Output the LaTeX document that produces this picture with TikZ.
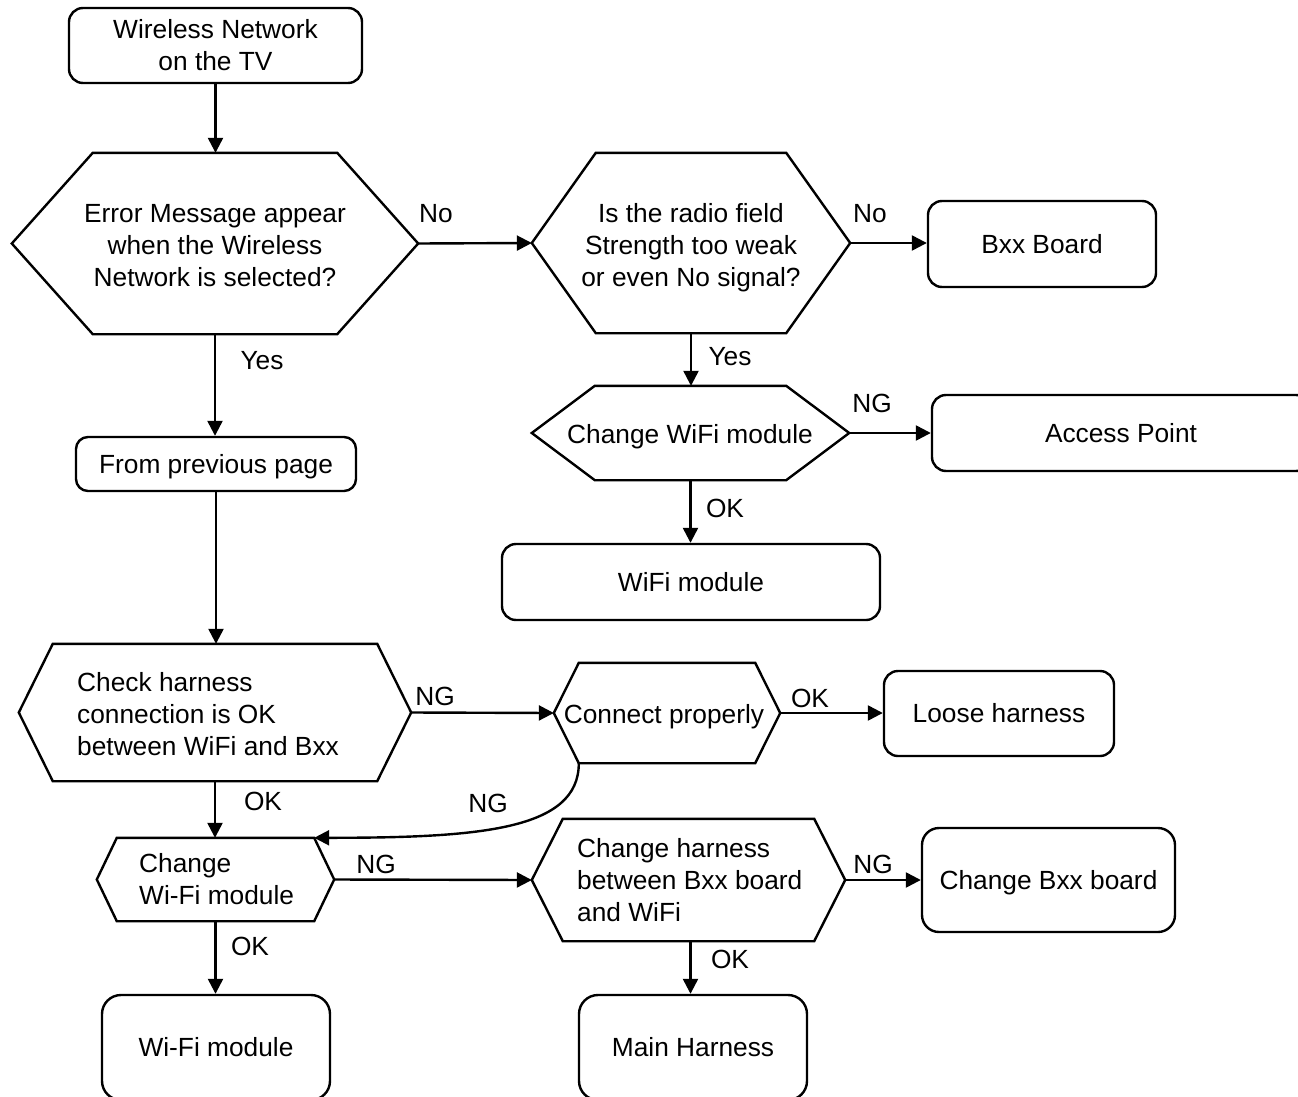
\documentclass[tikz,border=0pt]{standalone}
\usepackage{fontspec}
\setmainfont{Liberation Sans}
\usetikzlibrary{arrows.meta,calc}
\newcommand{\hexshape}[2]{%
  \coordinate (#1-nw) at ($(#1.north west)+(#2,0)$);
  \coordinate (#1-ne) at ($(#1.north east)+(-#2,0)$);
  \coordinate (#1-sw) at ($(#1.south west)+(#2,0)$);
  \coordinate (#1-se) at ($(#1.south east)+(-#2,0)$);
  \draw[lw, line join=miter] (#1-nw) -- (#1-ne) -- (#1.east) -- (#1-se) -- (#1-sw) -- (#1.west) -- cycle;}
\begin{document}
\begin{tikzpicture}[x=1pt,y=-1pt,
  font=\fontsize{26.3}{32}\selectfont,
  lw/.style={line width=2.4pt},
  rbox/.style={draw, lw, rounded corners=14pt, inner sep=0pt, align=center},
  hexnode/.style={inner sep=0pt, draw=none},
  arr/.style={lw, -{Triangle[length=15pt,width=15pt]}},
  lbl/.style={anchor=base, inner sep=0pt},
  txt/.style={inner sep=0pt, align=center}]
\useasboundingbox (0,0) rectangle (1298,1097);
\fill[white] (0,0) rectangle (1298,1097);
\clip (0,0) rectangle (1298,1097);

% rounded boxes
\node[rbox, minimum width=293pt, minimum height=75pt] (start) at (215.5,45.5) {Wireless Network\\on the TV};
\node[rbox, minimum width=228pt, minimum height=86pt] (bxx) at (1042,244) {Bxx Board};
\node[rbox, minimum width=378pt, minimum height=76pt] (ap) at (1121,433) {Access Point};
\node[rbox, minimum width=378pt, minimum height=76pt] (wifi) at (691,582) {WiFi module};
\node[rbox, rounded corners=12pt, text depth=0pt, minimum width=280pt, minimum height=54pt] (prev) at (216,464) {From previous page};
\node[rbox, minimum width=230pt, minimum height=85pt] (loose) at (999,713.5) {Loose harness};
\node[rbox, rounded corners=17pt, text depth=0pt, minimum width=253pt, minimum height=104pt] (cbxx) at (1048.5,880) {Change Bxx board};
\node[rbox, rounded corners=19pt, minimum width=228pt, minimum height=105pt] (wifim) at (216,1047.5) {Wi-Fi module};
\node[rbox, rounded corners=19pt, minimum width=228pt, minimum height=105pt] (mainh) at (693,1047.5) {Main Harness};

% hexagons
\node[hexnode, minimum width=406pt, minimum height=181pt] (h1) at (215,243.5) {};
\hexshape{h1}{81}
\node[txt] (h1t) at (215,246) {Error Message appear\\when the Wireless\\Network is selected?};

\node[hexnode, minimum width=318pt, minimum height=180pt] (h2) at (691,243) {};
\hexshape{h2}{64}
\node[txt] (h2t) at (691,248) {Is the radio field\\Strength too weak\\or even No signal?};

\node[hexnode, minimum width=317pt, minimum height=94pt] (h3) at (690.5,433) {};
\hexshape{h3}{63}
\node[txt] (h3t) at (690,437) {Change WiFi module};

\node[hexnode, minimum width=392pt, minimum height=137pt] (h4) at (215,712.5) {};
\hexshape{h4}{34}
\node[txt, align=left, anchor=west] (h4t) at (77,714) {Check harness\\connection is OK\\between WiFi and Bxx};

\node[hexnode, minimum width=226pt, minimum height=100pt] (h5) at (667,713) {};
\hexshape{h5}{25}
\node[txt] (h5t) at (664,717) {Connect properly};

\node[hexnode, minimum width=237pt, minimum height=83pt] (h6) at (215.5,879.5) {};
\hexshape{h6}{20}
\node[txt, align=left, anchor=west] (h6t) at (139,879) {Change\\Wi-Fi module};

\node[hexnode, minimum width=313pt, minimum height=122pt] (h7) at (688.5,880) {};
\hexshape{h7}{31}
\node[txt, align=left, anchor=west] (h7t) at (577,880) {Change harness\\between Bxx board\\and WiFi};

% connectors
\draw[arr] (start.south) -- (start.south |- h1.north);
\draw[arr] (h1.east) -- (h2.west);
\draw[arr] (h2.east) -- (h2.east -| bxx.west);
\draw[arr] (h1.south) -- (h1.south |- prev.north);
\draw[arr] (h2.south) -- (h2.south |- h3.north);
\draw[arr] (h3.east) -- (h3.east -| ap.west);
\draw[arr] (h3.south) -- (h3.south |- wifi.north);
\draw[arr] (prev.south) -- (prev.south |- h4.north);
\draw[arr] (h4.east) -- (h5.west);
\draw[arr] (h5.east) -- (h5.east -| loose.west);
\draw[arr] (h5-sw) .. controls +(0,67) and +(165,0) .. (h6-ne);
\draw[arr] (h4.south) -- (h4.south |- h6.north);
\draw[arr] (h6.east) -- (h7.west);
\draw[arr] (h7.east) -- (h7.east -| cbxx.west);
\draw[arr] ($(h7.south)+(2,0)$) -- ($(h7.south |- mainh.north)+(2,0)$);
\draw[arr] (h6.south) -- (h6.south |- wifim.north);

% labels
\node[lbl] (l1) at (436,222) {No};
\node[lbl] (l2) at (870,222) {No};
\node[lbl] (l3) at (262,369) {Yes};
\node[lbl] (l4) at (730,365) {Yes};
\node[lbl] (l5) at (872,412) {NG};
\node[lbl] (l6) at (725,517) {OK};
\node[lbl] (l7) at (435,705) {NG};
\node[lbl] (l8) at (810,707) {OK};
\node[lbl] (l9) at (488,812) {NG};
\node[lbl] (l10) at (263,810) {OK};
\node[lbl] (l11) at (376,873) {NG};
\node[lbl] (l12) at (873,873) {NG};
\node[lbl] (l13) at (730,968) {OK};
\node[lbl] (l14) at (250,955) {OK};
\end{tikzpicture}
\end{document}
